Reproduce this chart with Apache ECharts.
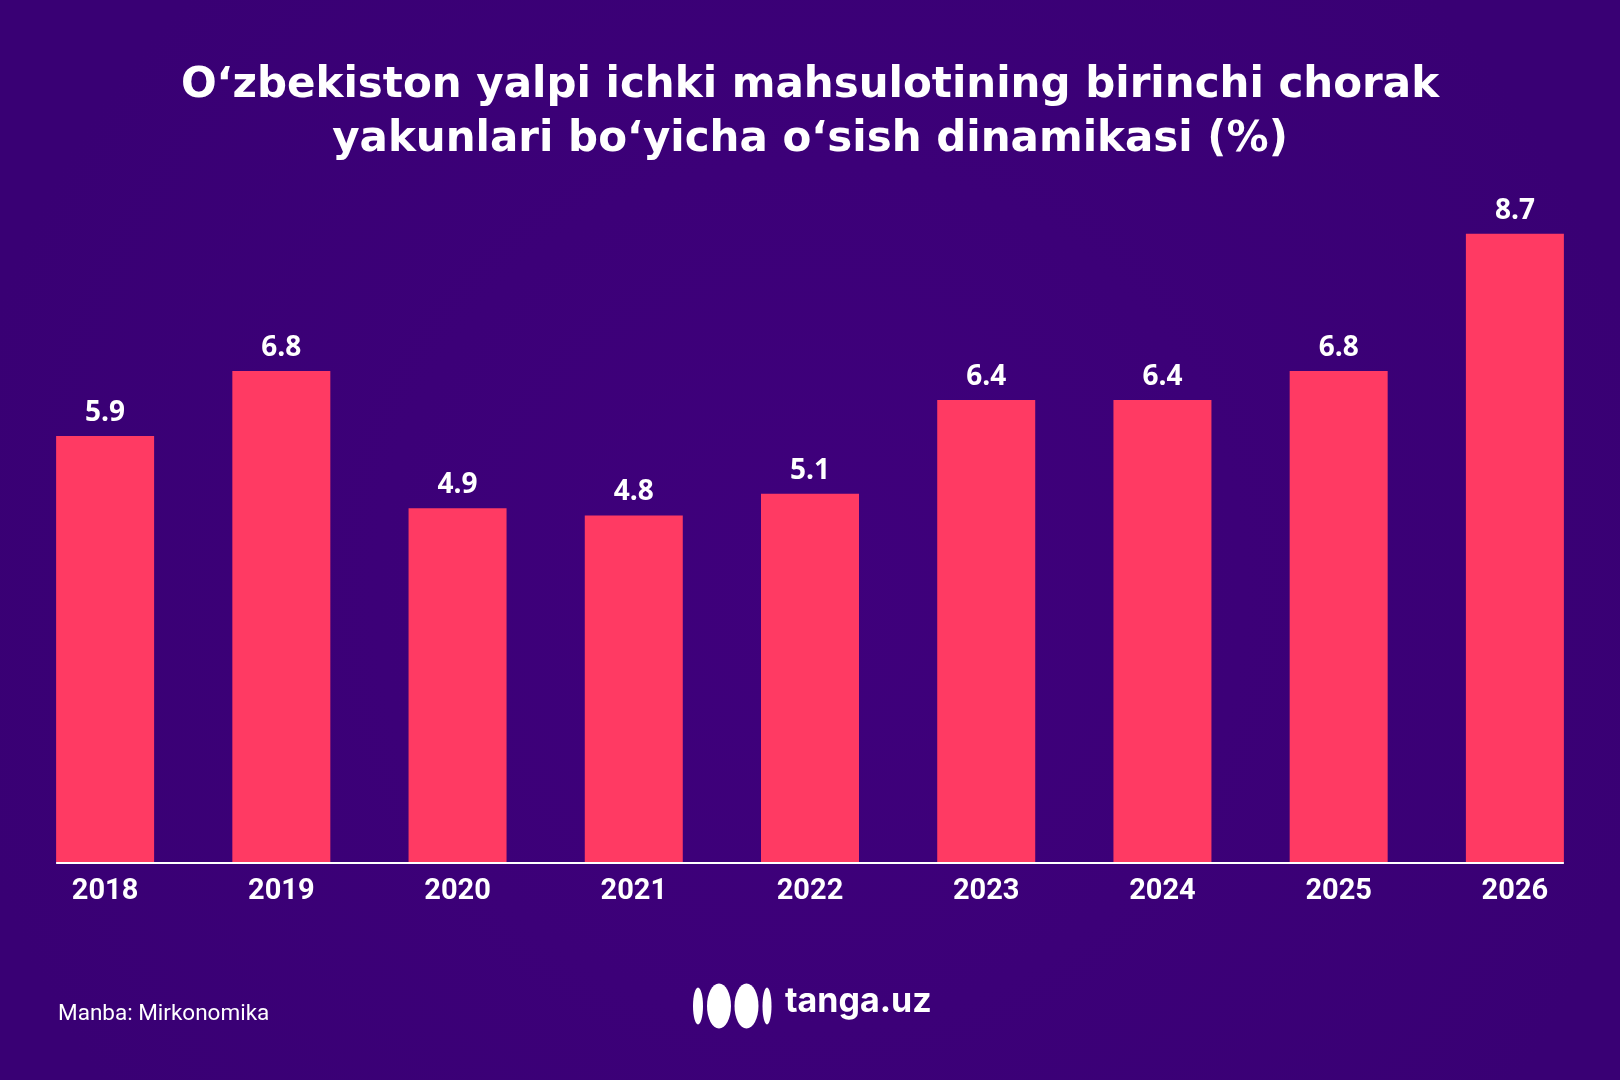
<!DOCTYPE html>
<html>
<head>
<meta charset="utf-8">
<script src="https://cdn.jsdelivr.net/npm/echarts@6/dist/echarts.min.js"></script>
<style>
html,body{margin:0;padding:0;background:#3b0078;}
#chart{width:1620px;height:1080px;}
</style>
</head>
<body>
<div id="chart"></div>
<script>
const titleLines = ['O‘zbekiston yalpi ichki mahsulotining birinchi chorak', 'yakunlari bo‘yicha o‘sish dinamikasi (%)'];
const years = ['2018','2019','2020','2021','2022','2023','2024','2025','2026'];
const growth = [5.9, 6.8, 4.9, 4.8, 5.1, 6.4, 6.4, 6.8, 8.7];
const sourceText = 'Manba: Mirkonomika';
const brandText = 'tanga.uz';

const BAR_W = 98;
const chart = echarts.init(document.getElementById('chart'));

const option = {
  backgroundColor: {
    type: 'radial', x: 0.5, y: 0.55, r: 0.8,
    colorStops: [{offset: 0, color: '#3f007c'}, {offset: 1, color: '#390074'}]
  },
  animation: false,
  title: {
    text: titleLines.join('\n'),
    left: 'center', top: 54,
    textStyle: {
      color: '#ffffff', fontFamily: 'DejaVu Sans', fontWeight: 'bold',
      fontSize: 42, lineHeight: 54
    }
  },
  grid: {left: 17, right: 17, top: 140, bottom: 218},
  xAxis: {
    type: 'category',
    data: years,
    axisLine: {show: false},
    axisTick: {show: false},
    axisLabel: {
      color: '#ffffff', fontFamily: 'Roboto', fontWeight: 'bold',
      fontSize: 29, margin: 15
    }
  },
  yAxis: {
    type: 'value', min: 0, max: 10,
    show: false, splitLine: {show: false}
  },
  series: [{
    type: 'bar',
    data: growth,
    barWidth: BAR_W,
    itemStyle: {color: '#ff3a63'},
    label: {
      show: true, position: 'top', distance: 9,
      color: '#ffffff', fontFamily: 'Open Sans', fontWeight: 'bold',
      fontSize: 28,
      formatter: p => p.value.toFixed(1)
    }
  }]
};
chart.setOption(option);

// axis baseline spanning from first bar's left edge to last bar's right edge
const p0 = chart.convertToPixel({gridIndex: 0}, [0, 0]);
const p1 = chart.convertToPixel({gridIndex: 0}, [years.length - 1, 0]);
chart.setOption({
  graphic: [
    {type: 'line', shape: {x1: p0[0] - BAR_W / 2, y1: p0[1] + 1, x2: p1[0] + BAR_W / 2, y2: p0[1] + 1},
     style: {stroke: '#ffffff', lineWidth: 2}, z: 10},
    {type: 'text', left: 58, top: 1003,
     style: {text: sourceText, fill: '#ffffff', font: '400 22.5px Roboto'}},
    {type: 'ellipse', shape: {cx: 698, cy: 1006, rx: 5, ry: 18.5}, style: {fill: '#ffffff'}},
    {type: 'ellipse', shape: {cx: 719, cy: 1006, rx: 12, ry: 22.5}, style: {fill: '#ffffff'}},
    {type: 'ellipse', shape: {cx: 746.5, cy: 1006, rx: 12, ry: 22.5}, style: {fill: '#ffffff'}},
    {type: 'ellipse', shape: {cx: 767, cy: 1006, rx: 4.5, ry: 18.5}, style: {fill: '#ffffff'}},
    {type: 'text', left: 785, top: 985,
     style: {text: brandText, fill: '#ffffff', font: '700 34px Inter'}}
  ]
});
</script>
</body>
</html>
